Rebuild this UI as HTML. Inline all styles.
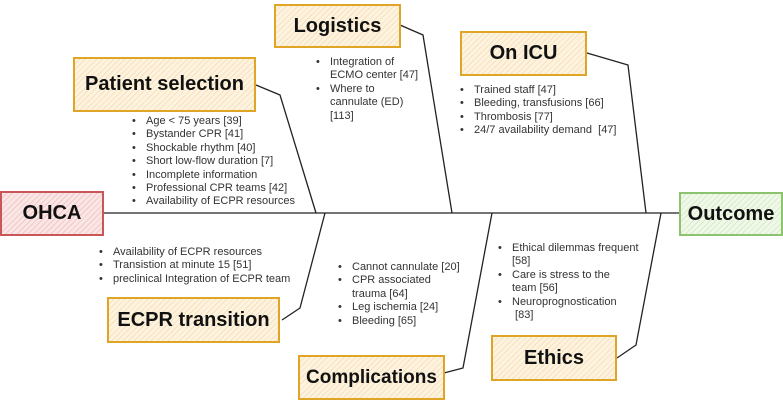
<!DOCTYPE html>
<html><head><meta charset="utf-8"><style>
body{margin:0;width:783px;height:402px;background:#fff;position:relative;overflow:hidden;font-family:"Liberation Sans",Arial,sans-serif;}
.b{position:absolute;box-sizing:border-box;border:2px solid #e0a426;background:repeating-linear-gradient(135deg,#fdf3e0 0 3px,#f7e2bb 3px 4px);display:flex;align-items:center;justify-content:center;font-weight:bold;color:#111;}
.r{border-color:#c9575a;background:repeating-linear-gradient(135deg,#fbe6e6 0 3px,#f2c8c8 3px 4px);}
.g{border-color:#8cc36f;background:repeating-linear-gradient(135deg,#f0f8ea 0 3px,#d8ecc9 3px 4px);}
ul{position:absolute;margin:0;padding:0;list-style:none;font-size:11px;line-height:13.4px;color:#333;white-space:nowrap;}
li{position:relative;padding-left:14px;}
li:before{content:"•";position:absolute;left:0;}
svg{position:absolute;left:0;top:0;}
</style></head><body>
<svg width="783" height="402"><g stroke="#222" stroke-width="1.3" fill="none">
<line x1="104" y1="213" x2="680" y2="213"/>
<polyline points="256,85 280,95 316,213"/>
<polyline points="400,25 423,35 452,213"/>
<polyline points="587,53 628,65 646,213"/>
<polyline points="325,213 300,308 282,320"/>
<polyline points="444,373 463,368 492,213"/>
<polyline points="617,358 636,345 661,213"/>
</g></svg>
<div class="b r" style="left:0;top:191px;width:104px;height:45px;font-size:20px">OHCA</div>
<div class="b g" style="left:679px;top:192px;width:104px;height:44px;font-size:20px">Outcome</div>
<div class="b" style="left:274px;top:4px;width:127px;height:44px;font-size:20px">Logistics</div>
<div class="b" style="left:73px;top:57px;width:183px;height:55px;font-size:20px">Patient selection</div>
<div class="b" style="left:460px;top:31px;width:127px;height:45px;font-size:20px">On ICU</div>
<div class="b" style="left:107px;top:297px;width:173px;height:46px;font-size:20px">ECPR transition</div>
<div class="b" style="left:298px;top:355px;width:147px;height:45px;font-size:19px">Complications</div>
<div class="b" style="left:491px;top:335px;width:126px;height:46px;font-size:20px">Ethics</div>
<ul style="left:316px;top:56px"><li>Integration of<br>ECMO center [47]</li><li>Where to<br>cannulate (ED)<br>[113]</li></ul>
<ul style="left:132px;top:115px"><li>Age &lt; 75 years [39]</li><li>Bystander CPR [41]</li><li>Shockable rhythm [40]</li><li>Short low-flow duration [7]</li><li>Incomplete information</li><li>Professional CPR teams [42]</li><li>Availability of ECPR resources</li></ul>
<ul style="left:460px;top:84px"><li>Trained staff [47]</li><li>Bleeding, transfusions [66]</li><li>Thrombosis [77]</li><li>24/7 availability demand&nbsp; [47]</li></ul>
<ul style="left:99px;top:246px"><li>Availability of ECPR resources</li><li>Transistion at minute 15 [51]</li><li>preclinical Integration of ECPR team</li></ul>
<ul style="left:338px;top:261px"><li>Cannot cannulate [20]</li><li>CPR associated<br>trauma [64]</li><li>Leg ischemia [24]</li><li>Bleeding [65]</li></ul>
<ul style="left:498px;top:242px"><li>Ethical dilemmas frequent<br>[58]</li><li>Care is stress to the<br>team [56]</li><li>Neuroprognostication<br>&nbsp;[83]</li></ul>
</body></html>
